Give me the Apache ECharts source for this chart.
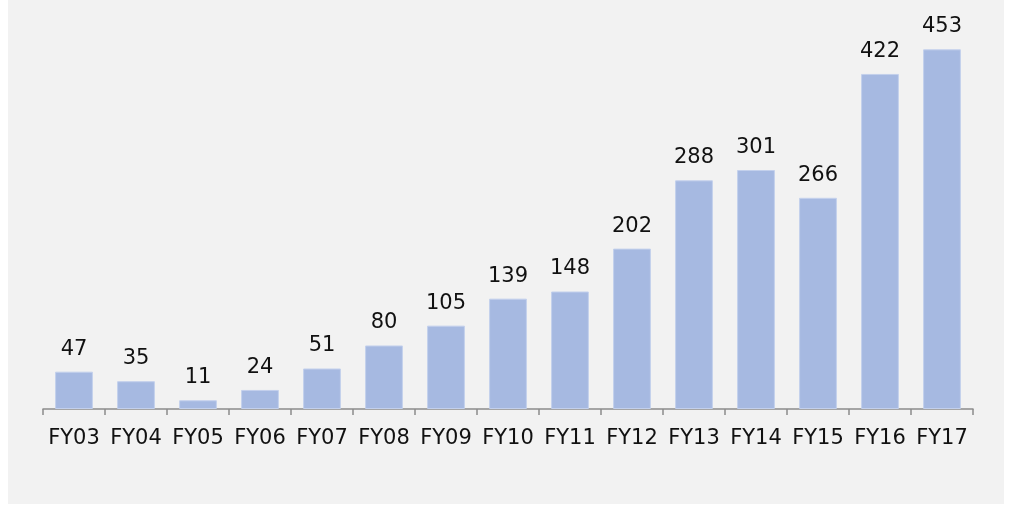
<!DOCTYPE html>
<html><head><meta charset="utf-8">
<script src="https://cdn.jsdelivr.net/npm/echarts@6/dist/echarts.min.js"></script>
<style>
html,body{margin:0;padding:0;background:#ffffff;}
#bg{position:absolute;left:8px;top:0;width:996px;height:504px;background:#f2f2f2;}
#c{position:absolute;left:0;top:0;width:1009px;height:505px;}
</style></head>
<body><div id="bg"></div><div id="c"></div>
<script>
const categories = ['FY03','FY04','FY05','FY06','FY07','FY08','FY09','FY10','FY11','FY12','FY13','FY14','FY15','FY16','FY17'];
const values = [47,35,11,24,51,80,105,139,148,202,288,301,266,422,453];

const chart = echarts.init(document.getElementById('c'), null, {renderer:'canvas'});
chart.setOption({
  backgroundColor:'transparent',
  animation:false,
  grid:{left:43,right:36,top:12,bottom:96,containLabel:false},
  xAxis:{type:'category',data:categories,
    axisLine:{show:true,lineStyle:{color:'#8c8c8c',width:1.5}},
    axisTick:{show:true,length:6,lineStyle:{color:'#8c8c8c',width:1.5}},
    axisLabel:{interval:0,color:'#111111',fontSize:21,fontFamily:'DejaVu Sans',margin:19,hideOverlap:false}},
  yAxis:{type:'value',min:0,max:500,show:false,splitLine:{show:false}},
  series:[{type:'bar',data:values,barWidth:'61%',
    itemStyle:{color:'#a6b9e1',borderColor:'#c3d0ec',borderWidth:1},
    label:{show:true,position:'top',distance:12,color:'#111111',fontSize:21,fontFamily:'DejaVu Sans'}}]
});
</script></body></html>
